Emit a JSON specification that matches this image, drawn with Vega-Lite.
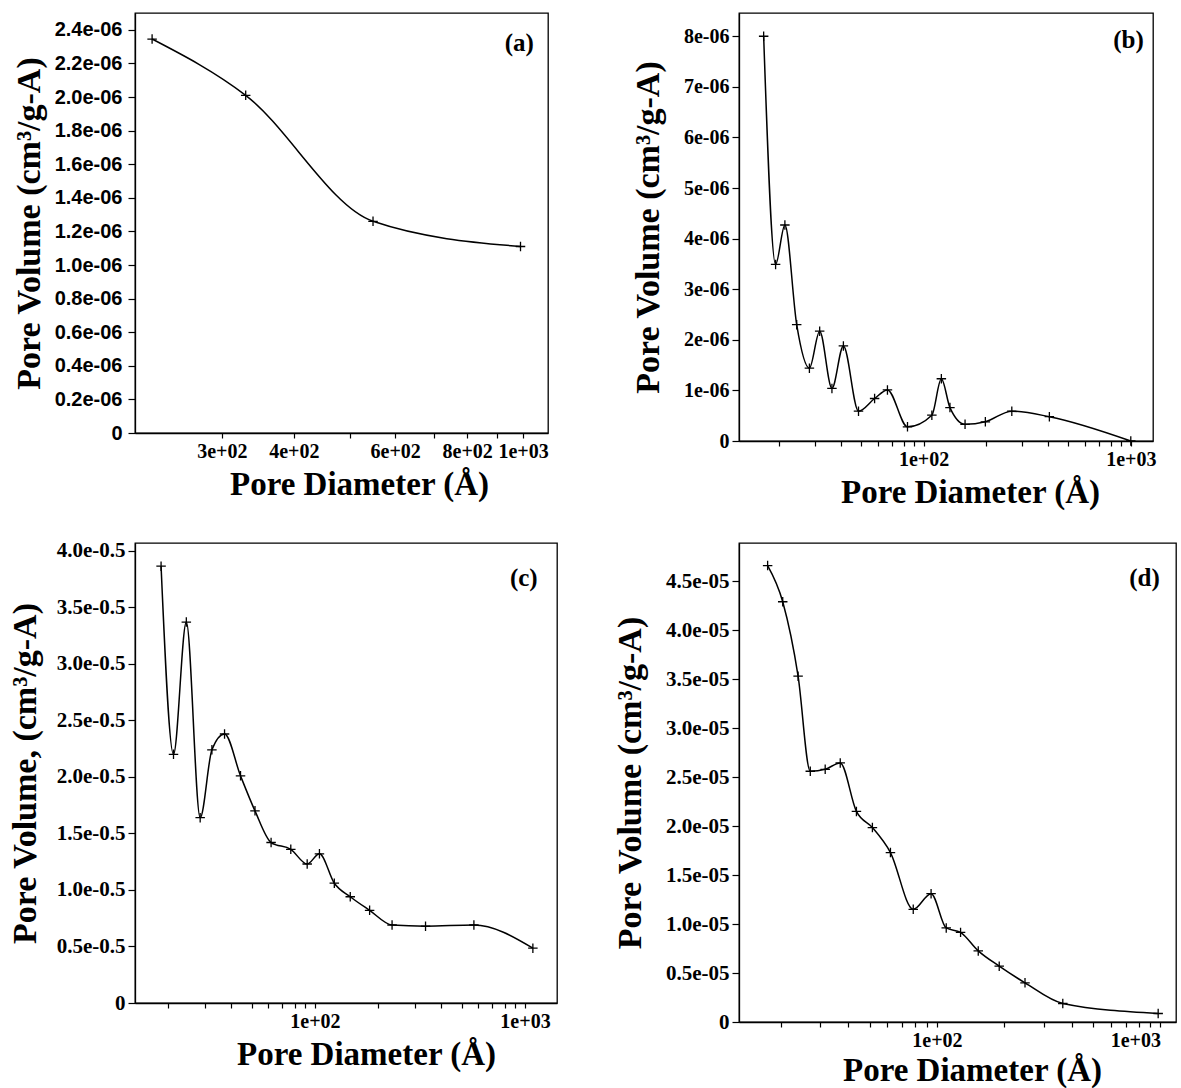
{
  "$schema": "https://vega.github.io/schema/vega-lite/v6.json",
  "padding": {"left": 7, "top": 12, "right": 0, "bottom": 0},
  "columns": 2,
  "spacing": {"row": 29, "column": 54},
  "background": "white",
  "concat": [
    {
      "width": 413, "height": 420,
      "data": {"values": [
        {"d": 227, "v": 2.345e-6}, {"d": 330, "v": 2.01e-6}, {"d": 549, "v": 1.26e-6}, {"d": 990, "v": 1.11e-6}
      ]},
      "layer": [
        {"mark": {"type": "line", "interpolate": "monotone", "color": "black", "strokeWidth": 1.5},
         "encoding": {
           "x": {"field": "d", "type": "quantitative", "scale": {"type": "log", "domain": [212, 1105], "nice": false},
                 "axis": {"title": "Pore Diameter (Å)", "values": [300, 400, 500, 600, 700, 800, 900, 1000], "tickCount": 40,
                          "labelExpr": "datum.value == 500 || datum.value == 700 || datum.value == 900 ? '' : (datum.value == 1000 ? '1e+03' : format(datum.value / 100, 'd') + 'e+02')",
                          "titleX": 224}},
           "y": {"field": "v", "type": "quantitative", "scale": {"domain": [0, 2.5e-6], "nice": false},
                 "axis": {"title": "Pore Volume (cm³/g-A)", "tickCount": 40, "values": [0, 2e-7, 4e-7, 6e-7, 8e-7, 1e-6, 1.2e-6, 1.4e-6, 1.6e-6, 1.8e-6, 2e-6, 2.2e-6, 2.4e-6],
                          "labelExpr": "datum.value == 0 ? '0' : format(datum.value * 1e6, '.1f') + 'e-06'",
                          "labelFont": "Liberation Sans", "labelFontSize": 20, "labelPadding": 6, "titlePadding": 8}}
         }},
        {"mark": {"type": "point", "shape": "M-1,0H1M0,-1V1", "size": 90, "stroke": "black", "strokeWidth": 1.3, "filled": false, "opacity": 1},
         "encoding": {"x": {"field": "d", "type": "quantitative"}, "y": {"field": "v", "type": "quantitative"}}},
        {"data": {"values": [{}]},
         "mark": {"type": "text", "text": "(a)", "fontSize": 25, "fontWeight": "bold", "font": "Liberation Serif", "color": "black"},
         "encoding": {"x": {"datum": 985, "type": "quantitative"}, "y": {"datum": 2.32e-6, "type": "quantitative"}}}
      ]
    },
    {
      "width": 414, "height": 428,
      "data": {"values": [
        {"d": 16.9, "v": 8.0e-6}, {"d": 19.3, "v": 3.49e-6}, {"d": 21.4, "v": 4.27e-6}, {"d": 24.4, "v": 2.3e-6},
        {"d": 28.1, "v": 1.44e-6}, {"d": 31.5, "v": 2.17e-6}, {"d": 36.1, "v": 1.04e-6}, {"d": 41.0, "v": 1.88e-6},
        {"d": 48.5, "v": 0.59e-6}, {"d": 58.0, "v": 0.84e-6}, {"d": 66.9, "v": 1.01e-6}, {"d": 83.6, "v": 0.28e-6},
        {"d": 109.6, "v": 0.51e-6}, {"d": 121.8, "v": 1.23e-6}, {"d": 134, "v": 0.66e-6}, {"d": 158.5, "v": 0.33e-6},
        {"d": 198.6, "v": 0.38e-6}, {"d": 266.5, "v": 0.59e-6}, {"d": 404.6, "v": 0.48e-6}, {"d": 1000, "v": 0.0}
      ]},
      "layer": [
        {"mark": {"type": "line", "interpolate": "monotone", "color": "black", "strokeWidth": 1.5},
         "encoding": {
           "x": {"field": "d", "type": "quantitative", "scale": {"type": "log", "domain": [12.85, 1280], "nice": false},
                 "axis": {"title": "Pore Diameter (Å)", "tickCount": 40, "values": [20, 30, 40, 50, 60, 70, 80, 90, 100, 200, 300, 400, 500, 600, 700, 800, 900, 1000],
                          "labelExpr": "datum.value == 100 ? '1e+02' : (datum.value == 1000 ? '1e+03' : '')",
                          "titleX": 231}},
           "y": {"field": "v", "type": "quantitative", "scale": {"domain": [0, 8.46e-6], "nice": false},
                 "axis": {"title": "Pore Volume (cm³/g-A)", "tickCount": 40, "values": [0, 1e-6, 2e-6, 3e-6, 4e-6, 5e-6, 6e-6, 7e-6, 8e-6],
                          "labelExpr": "datum.value == 0 ? '0' : format(datum.value * 1e6, 'd') + 'e-06'",
                          "titlePadding": 18}}
         }},
        {"mark": {"type": "point", "shape": "M-1,0H1M0,-1V1", "size": 90, "stroke": "black", "strokeWidth": 1.3, "filled": false, "opacity": 1},
         "encoding": {"x": {"field": "d", "type": "quantitative"}, "y": {"field": "v", "type": "quantitative"}}},
        {"data": {"values": [{}]},
         "mark": {"type": "text", "text": "(b)", "fontSize": 25, "fontWeight": "bold", "font": "Liberation Serif", "color": "black"},
         "encoding": {"x": {"datum": 975, "type": "quantitative"}, "y": {"datum": 7.92e-6, "type": "quantitative"}}}
      ]
    },
    {
      "width": 422, "height": 460,
      "data": {"values": [
        {"d": 18.5, "v": 3.865e-5}, {"d": 21.2, "v": 2.2e-5}, {"d": 24.4, "v": 3.37e-5}, {"d": 28.4, "v": 1.64e-5},
        {"d": 32.3, "v": 2.24e-5}, {"d": 37.1, "v": 2.38e-5}, {"d": 44.2, "v": 2.01e-5}, {"d": 51.8, "v": 1.7e-5},
        {"d": 61.8, "v": 1.42e-5}, {"d": 76.7, "v": 1.36e-5}, {"d": 91.8, "v": 1.23e-5}, {"d": 105, "v": 1.32e-5},
        {"d": 123.6, "v": 1.06e-5}, {"d": 147.2, "v": 0.94e-5}, {"d": 182, "v": 0.82e-5}, {"d": 232.8, "v": 0.69e-5},
        {"d": 336, "v": 0.68e-5}, {"d": 571, "v": 0.69e-5}, {"d": 1090, "v": 0.485e-5}
      ]},
      "layer": [
        {"mark": {"type": "line", "interpolate": "monotone", "color": "black", "strokeWidth": 1.5},
         "encoding": {
           "x": {"field": "d", "type": "quantitative", "scale": {"type": "log", "domain": [13.9, 1420], "nice": false},
                 "axis": {"title": "Pore Diameter (Å)", "tickCount": 40, "values": [20, 30, 40, 50, 60, 70, 80, 90, 100, 200, 300, 400, 500, 600, 700, 800, 900, 1000],
                          "labelExpr": "datum.value == 100 ? '1e+02' : (datum.value == 1000 ? '1e+03' : '')",
                          "titleX": 231}},
           "y": {"field": "v", "type": "quantitative", "scale": {"domain": [0, 4.07e-5], "nice": false},
                 "axis": {"title": "Pore Volume, (cm³/g-A)", "tickCount": 40, "values": [0, 0.5e-5, 1e-5, 1.5e-5, 2e-5, 2.5e-5, 3e-5, 3.5e-5, 4e-5],
                          "labelExpr": "datum.value == 0 ? '0' : format(datum.value * 1e5, '.1f') + 'e-0.5'",
                          "labelFontSize": 21, "titlePadding": 14}}
         }},
        {"mark": {"type": "point", "shape": "M-1,0H1M0,-1V1", "size": 90, "stroke": "black", "strokeWidth": 1.3, "filled": false, "opacity": 1},
         "encoding": {"x": {"field": "d", "type": "quantitative"}, "y": {"field": "v", "type": "quantitative"}}},
        {"data": {"values": [{}]},
         "mark": {"type": "text", "text": "(c)", "fontSize": 25, "fontWeight": "bold", "font": "Liberation Serif", "color": "black"},
         "encoding": {"x": {"datum": 987, "type": "quantitative"}, "y": {"datum": 3.76e-5, "type": "quantitative"}}}
      ]
    },
    {
      "width": 437, "height": 479,
      "data": {"values": [
        {"d": 17.46, "v": 4.66e-5}, {"d": 20.4, "v": 4.29e-5}, {"d": 23.9, "v": 3.53e-5}, {"d": 27.1, "v": 2.56e-5},
        {"d": 31.6, "v": 2.58e-5}, {"d": 36.9, "v": 2.645e-5}, {"d": 43.6, "v": 2.15e-5}, {"d": 51.4, "v": 1.985e-5},
        {"d": 61.9, "v": 1.73e-5}, {"d": 78.3, "v": 1.15e-5}, {"d": 94.1, "v": 1.31e-5}, {"d": 110, "v": 0.96e-5},
        {"d": 127.5, "v": 0.915e-5}, {"d": 153, "v": 0.726e-5}, {"d": 189.9, "v": 0.57e-5}, {"d": 247.7, "v": 0.4e-5},
        {"d": 365.6, "v": 0.189e-5}, {"d": 977, "v": 0.087e-5}
      ]},
      "layer": [
        {"mark": {"type": "line", "interpolate": "monotone", "color": "black", "strokeWidth": 1.5},
         "encoding": {
           "x": {"field": "d", "type": "quantitative", "scale": {"type": "log", "domain": [13, 1174], "nice": false},
                 "axis": {"title": "Pore Diameter (Å)", "tickCount": 40, "values": [20, 30, 40, 50, 60, 70, 80, 90, 100, 200, 300, 400, 500, 600, 700, 800, 900, 1000],
                          "labelExpr": "datum.value == 100 ? '1e+02' : (datum.value == 1000 ? '1e+03' : '')",
                          "labelAlign": {"expr": "datum.value == 1000 ? 'right' : 'center'"}, "labelDx": 14,
                          "titleX": 233, "titlePadding": 4}},
           "y": {"field": "v", "type": "quantitative", "scale": {"domain": [0, 4.89e-5], "nice": false},
                 "axis": {"title": "Pore Volume (cm³/g-A)", "tickCount": 40, "values": [0, 0.5e-5, 1e-5, 1.5e-5, 2e-5, 2.5e-5, 3e-5, 3.5e-5, 4e-5, 4.5e-5],
                          "labelExpr": "datum.value == 0 ? '0' : format(datum.value * 1e5, '.1f') + 'e-05'",
                          "labelFontSize": 21, "titlePadding": 18}}
         }},
        {"mark": {"type": "point", "shape": "M-1,0H1M0,-1V1", "size": 90, "stroke": "black", "strokeWidth": 1.3, "filled": false, "opacity": 1},
         "encoding": {"x": {"field": "d", "type": "quantitative"}, "y": {"field": "v", "type": "quantitative"}}},
        {"data": {"values": [{}]},
         "mark": {"type": "text", "text": "(d)", "fontSize": 25, "fontWeight": "bold", "font": "Liberation Serif", "color": "black"},
         "encoding": {"x": {"datum": 849, "type": "quantitative"}, "y": {"datum": 4.53e-5, "type": "quantitative"}}}
      ]
    }
  ],
  "config": {
    "view": {"stroke": "black", "strokeWidth": 1.3},
    "font": "Liberation Serif",
    "axis": {
      "grid": false, "domainColor": "black", "domainWidth": 1.3, "tickColor": "black", "tickWidth": 1.2,
      "labelColor": "black", "titleColor": "black",
      "labelFont": "Liberation Serif", "labelFontWeight": "bold", "labelFontSize": 20,
      "titleFont": "Liberation Serif", "titleFontWeight": "bold", "titleFontSize": 34,
      "labelOverlap": false, "labelFlush": false, "labelPadding": 3
    },
    "axisX": {"tickSize": 5, "titlePadding": 7, "titleFontSize": 33},
    "axisY": {"tickSize": 7}
  }
}
